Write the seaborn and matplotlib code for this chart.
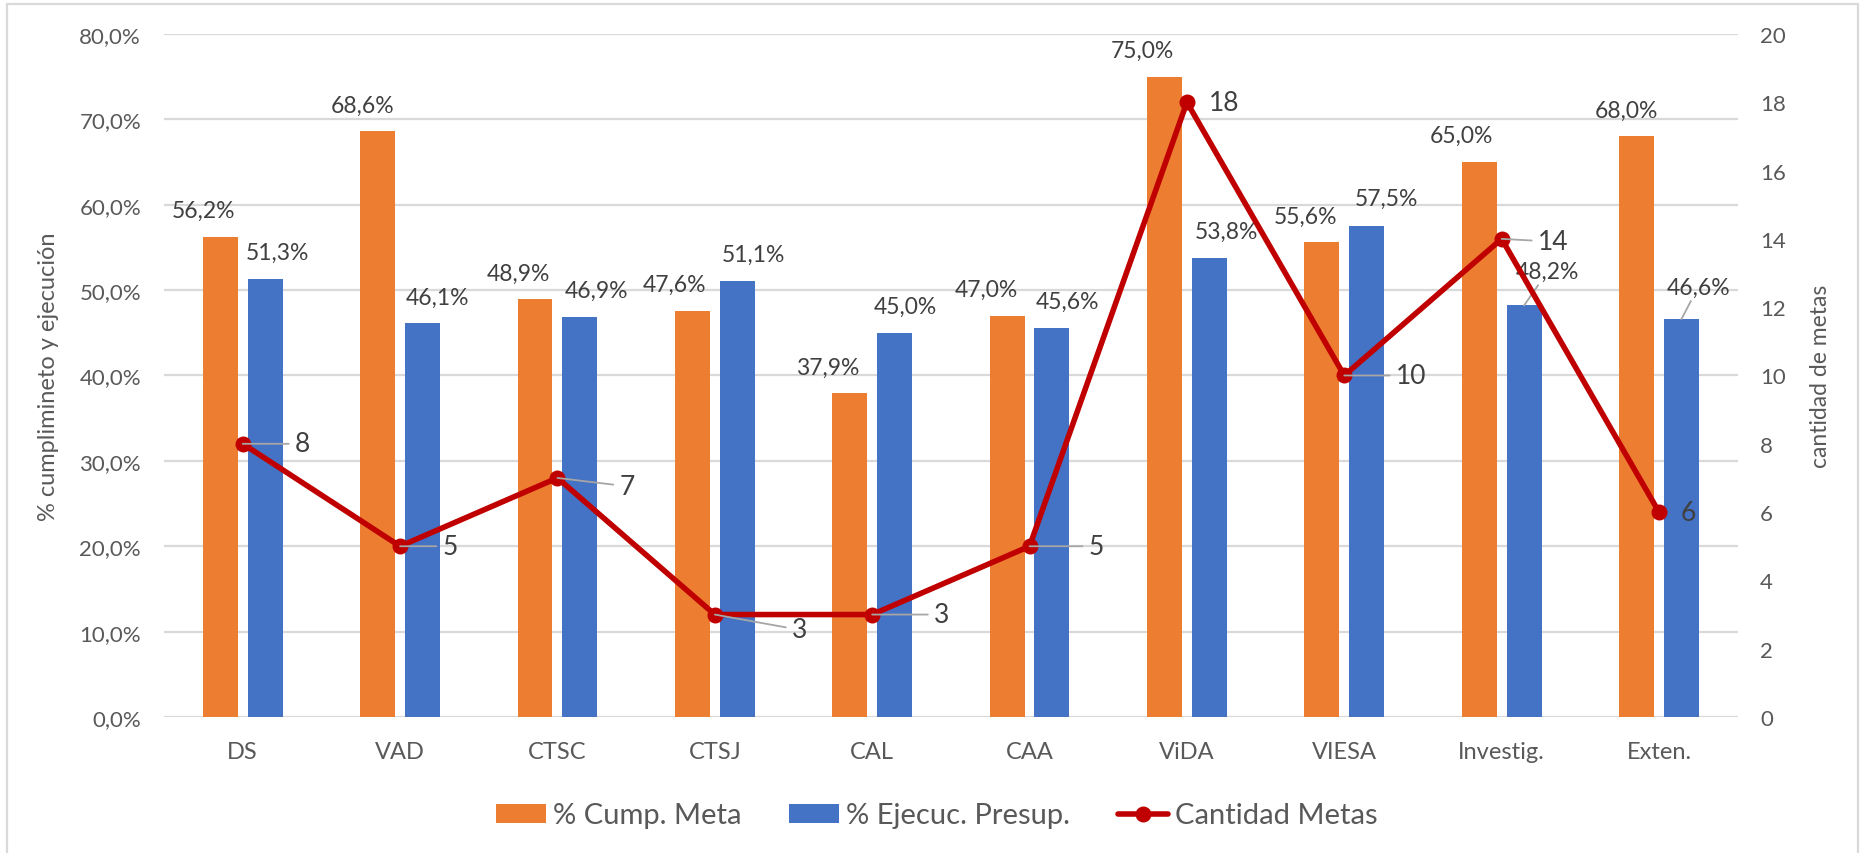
import numpy as np
import pandas as pd
import matplotlib
matplotlib.use("Agg")
import matplotlib.pyplot as plt
import seaborn as sns
from matplotlib.patches import Patch, Rectangle
from matplotlib.lines import Line2D

# ---------------- data ----------------
categories = ["DS", "VAD", "CTSC", "CTSJ", "CAL", "CAA", "ViDA", "VIESA", "Investig.", "Exten."]
cump_meta = [56.2, 68.6, 48.9, 47.6, 37.9, 47.0, 75.0, 55.6, 65.0, 68.0]
ejec_presup = [51.3, 46.1, 46.9, 51.1, 45.0, 45.6, 53.8, 57.5, 48.2, 46.6]
cantidad_metas = [8, 5, 7, 3, 3, 5, 18, 10, 14, 6]
series_names = ["% Cump. Meta", "% Ejecuc. Presup.", "Cantidad Metas"]
left_ticks = [0, 10, 20, 30, 40, 50, 60, 70, 80]
right_ticks = [0, 2, 4, 6, 8, 10, 12, 14, 16, 18, 20]

# ---------------- label layout (points) ----------------
orange_dx = [-12, -11, -12, -13, -16, -15, -16, -12, -13, -7]
blue_dx = [9, 11, 12, 12, 8, 11, 12, 14, 17, 12]
blue_dy = [19, 19, 19, 19, 19, 19, 19, 20, 24.5, 23]
metas_off = [(43, 0), (36, 0), (50, -6), (61, -11), (50, 0), (48, 0), (27, 0), (48, 0), (37, -2), (21, 0)]
metas_leader = [True, True, True, True, True, True, False, True, True, False]

ORANGE = "#ED7D31"
BLUE = "#4472C4"
RED = "#C00000"
GRID = "#D9D9D9"
TICK = "#595959"
LABEL = "#404040"

sns.set_theme(style="white")
plt.rcParams["font.family"] = ["Lato", "DejaVu Sans"]

fig = plt.figure(figsize=(18.65, 8.54), dpi=100)
ax = fig.add_axes([0.08794, 0.15925, 0.8438, 0.7998])

df = pd.DataFrame({
    "cat": categories * 2,
    "serie": [series_names[0]] * len(categories) + [series_names[1]] * len(categories),
    "val": cump_meta + ejec_presup,
})
sns.barplot(data=df, x="cat", y="val", hue="serie", order=categories,
            hue_order=series_names[:2], palette={series_names[0]: ORANGE, series_names[1]: BLUE},
            width=0.57, gap=0.22, saturation=1, errorbar=None, linewidth=0,
            legend=False, ax=ax)

ax.set_xlim(-0.5, len(categories) - 0.5)
ax.set_ylim(0, 80)
ax.set_yticks(left_ticks)
ax.set_yticklabels([f"{v:.1f}%".replace(".", ",") for v in left_ticks])
ax.yaxis.grid(True, color=GRID, lw=1.6)
ax.xaxis.grid(False)
ax.set_axisbelow(True)
for s in ax.spines.values():
    s.set_visible(False)
ax.tick_params(axis="y", length=0, pad=16.5, labelsize=16, labelcolor=TICK)
ax.tick_params(axis="x", length=0, pad=17, labelsize=17, labelcolor=TICK)
ax.set_xlabel("")
ax.set_ylabel("% cumplimineto y ejecución", fontsize=17, color=TICK)
ax.yaxis.set_label_coords(-0.0667, 0.5)

# bar labels
for ci, cont in enumerate(ax.containers):
    vals = cump_meta if ci == 0 else ejec_presup
    for i, p in enumerate(cont.patches):
        x = p.get_x() + p.get_width() / 2
        y = p.get_height()
        if ci == 0:
            dx, dy = orange_dx[i], 19
        else:
            dx, dy = blue_dx[i], blue_dy[i]
        txt = f"{vals[i]:.1f}%".replace(".", ",")
        kw = {}
        if ci == 1 and i in (8, 9):
            kw["arrowprops"] = dict(arrowstyle="-", color="#A6A6A6", lw=1.3, shrinkA=0, shrinkB=0)
        ax.annotate(txt, (x, y), xytext=(dx, dy), textcoords="offset points",
                    ha="center", va="center", fontsize=16.5, color=LABEL, **kw)

# line on secondary axis
ax2 = ax.twinx()
sns.lineplot(x=np.arange(len(categories)), y=cantidad_metas, ax=ax2, color=RED,
             lw=4, marker="o", markersize=11.5, markeredgewidth=0, legend=False)
ax2.set_xlim(-0.5, len(categories) - 0.5)
ax2.set_ylim(0, 20)
ax2.set_yticks(right_ticks)
ax2.set_yticklabels([str(v) for v in right_ticks])
ax2.grid(False)
for s in ax2.spines.values():
    s.set_visible(False)
ax2.tick_params(axis="y", length=0, pad=16, labelsize=16, labelcolor=TICK)
ax2.set_ylabel("cantidad de metas", fontsize=16.5, color=TICK, rotation=90)
ax2.yaxis.set_label_coords(1.046, 0.5)

for i, v in enumerate(cantidad_metas):
    kw = {}
    if metas_leader[i]:
        kw["arrowprops"] = dict(arrowstyle="-", color="#A6A6A6", lw=1.3, shrinkA=2, shrinkB=0)
    ax2.annotate(str(v), (i, v), xytext=metas_off[i], textcoords="offset points",
                 ha="center", va="center", fontsize=19, color=LABEL, **kw)

# legend
handles = [
    Patch(facecolor=ORANGE, edgecolor="none"),
    Patch(facecolor=BLUE, edgecolor="none"),
    Line2D([0], [0], color=RED, lw=4, marker="o", markersize=11.5, markeredgewidth=0),
]
leg = fig.legend(handles, series_names, loc="center", bbox_to_anchor=(0.5024, 0.044),
                 ncol=3, frameon=False, fontsize=21, handlelength=1.72, handleheight=0.62,
                 handletextpad=0.24, columnspacing=1.64)
for t in leg.get_texts():
    t.set_color(TICK)

# chart frame
fig.patches.append(Rectangle((7 / 1865, -0.02), (1857.7 - 7) / 1865, 0.9941 + 0.02,
                             transform=fig.transFigure, fill=False, edgecolor=GRID, lw=1.6))

fig.savefig("out.png", dpi=100)
